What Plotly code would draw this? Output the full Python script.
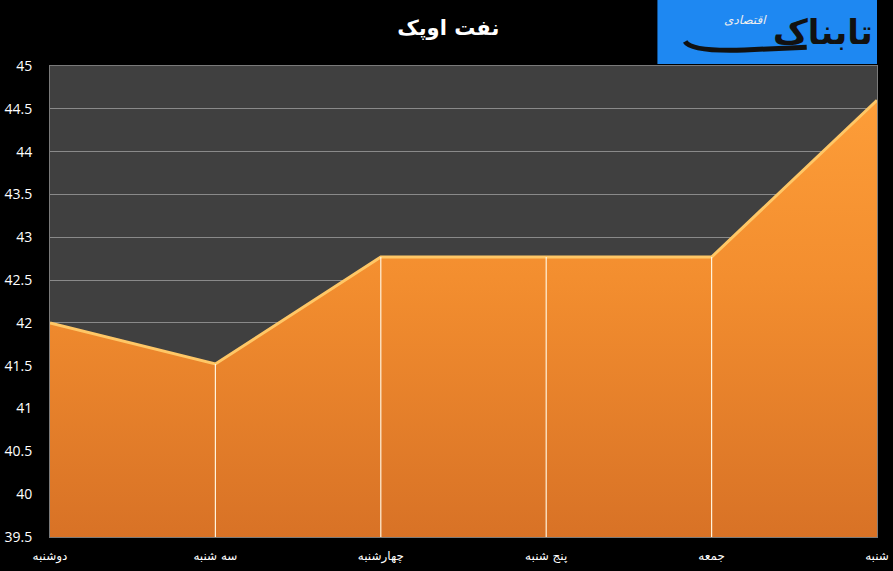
import plotly.graph_objects as go

categories = ["دوشنبه", "سه شنبه", "چهارشنبه", "پنج شنبه", "جمعه", "شنبه"]
prices = [42.0, 41.52, 42.77, 42.77, 42.77, 44.6]
y_ticks = [39.5, 40, 40.5, 41, 41.5, 42, 42.5, 43, 43.5, 44, 44.5, 45]
title_text = "نفت اوپک"
logo_main = "تابناک"
logo_sub = "اقتصادی"

y_min, y_max = y_ticks[0], y_ticks[-1]

fig = go.Figure()

# area with vertical gradient
fig.add_trace(go.Scatter(
    x=categories, y=[y_min] * len(categories), mode="lines",
    line=dict(width=0), hoverinfo="skip", showlegend=False))
fig.add_trace(go.Scatter(
    x=categories, y=prices, mode="lines", fill="tonexty",
    line=dict(color="#FFC766", width=3),
    fillgradient=dict(type="vertical", start=y_min, stop=y_max,
                      colorscale=[[0, "#D87226"], [0.55, "#F38E2F"], [1, "#FFA03A"]]),
    showlegend=False))

# drop lines from data
dx, dy = [], []
for c, v in zip(categories[1:-1], prices[1:-1]):
    dx += [c, c, None]
    dy += [y_min, v, None]
fig.add_trace(go.Scatter(x=dx, y=dy, mode="lines",
                         line=dict(color="#FFF3DC", width=1.2),
                         hoverinfo="skip", showlegend=False))

fig.update_layout(
    width=893, height=571,
    paper_bgcolor="#000000", plot_bgcolor="#404040",
    margin=dict(l=50, r=16, t=66, b=34),
    title=dict(text="<b>" + title_text + "</b>", x=0.502, xanchor="center",
               y=0.951, yanchor="middle",
               font=dict(family="DejaVu Sans", size=21, color="white")),
    xaxis=dict(type="category", range=[0, len(categories) - 1],
               showgrid=False, zeroline=False, automargin=False,
               showline=True, linecolor="#7a7a7a", linewidth=1, mirror=True,
               tickfont=dict(family="DejaVu Sans", size=12, color="white"),
               ticklabelstandoff=8),
    yaxis=dict(range=[y_min, y_max], tickvals=y_ticks,
               ticktext=[f"{t:g}" for t in y_ticks], automargin=False,
               showgrid=True, gridcolor="#8a8a8a", gridwidth=1, zeroline=False,
               showline=True, linecolor="#7a7a7a", linewidth=1, mirror=True,
               tickfont=dict(family="Open Sans", size=14, color="white"),
               ticklabelstandoff=14),
    shapes=[
        dict(type="rect", xref="paper", yref="paper",
             x0=0.7345, x1=1.0, y0=1.004, y1=1.140,
             fillcolor="#1E88F2", line=dict(width=0), layer="above"),
        dict(type="path", xref="paper", yref="paper",
             path="M 0.768,1.052 Q 0.775,1.030 0.84,1.034 L 0.915,1.040",
             line=dict(color="#111111", width=5), layer="above"),
    ],
    annotations=[
        dict(text="<b>" + logo_main + "</b>", xref="paper", yref="paper",
             x=0.997, y=1.072, xanchor="right", yanchor="middle", showarrow=False,
             font=dict(family="DejaVu Sans", size=34, color="#111111")),
        dict(text="<i>" + logo_sub + "</i>", xref="paper", yref="paper",
             x=0.87, y=1.098, xanchor="right", yanchor="middle", showarrow=False,
             font=dict(family="DejaVu Sans", size=12, color="#EEEEEE")),
    ],
)

fig.write_html("out.html", config={"displayModeBar": False},
               post_script="document.body.style.margin='0';")
